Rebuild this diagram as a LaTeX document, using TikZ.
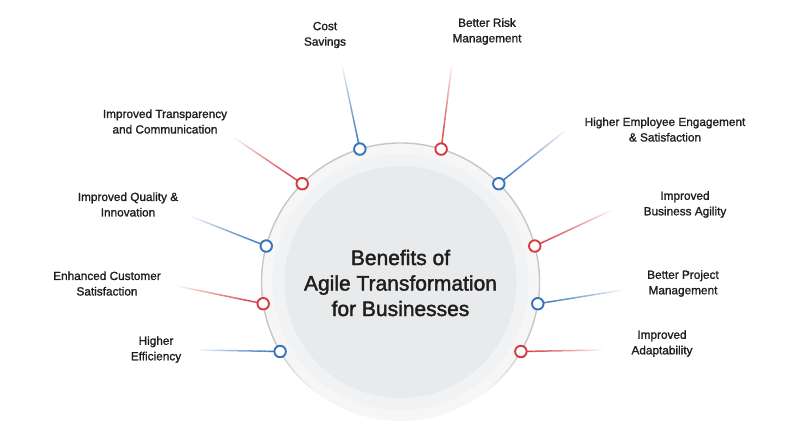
\documentclass[tikz,border=0pt]{standalone}
\usepackage{fontspec}
\setmainfont{Liberation Sans}
\newfontfamily\medfont[FakeBold=1.3]{Liberation Sans}
\newfontfamily\titlefont[FakeBold=1.8]{Liberation Sans}
\usetikzlibrary{calc}
\definecolor{bl}{HTML}{3674BA}
\definecolor{rd}{HTML}{D63A3C}
\definecolor{txt}{HTML}{1E1E1E}
\definecolor{diskA}{HTML}{F6F6F7}
\definecolor{diskB}{HTML}{F1F2F3}
\definecolor{diskC}{HTML}{E9EAEC}
\definecolor{ring}{HTML}{C6C6C8}
\pgfdeclarelayer{bg}
\pgfdeclarelayer{mid}
\pgfsetlayers{bg,mid,main}
\begin{document}
\begin{tikzpicture}[x=1pt,y=-1pt,
  lbl/.style={align=center, font=\medfont\fontsize{11.8}{15.5}\selectfont, text=txt, inner sep=0pt},
  dot/.style={circle, draw=#1, fill=white, line width=1.9pt, minimum size=11.5pt, inner sep=0pt},
  ringline/.style={draw=ring, line width=1.4pt}]
\useasboundingbox (0,0) rectangle (800,440);
\coordinate (c) at (400.5,282);
\begin{pgfonlayer}{bg}
\fill[diskA] (c) circle (139);
\fill[diskB] (c) circle (128);
\fill[diskC] (c) circle (116);
\draw[ringline] ([shift={(25:139)}]c) arc (25:-205:139);
\foreach \k in {0,...,19} {
  \draw[ringline, draw opacity={1-\k/20}] ([shift={({-205-1.4*\k}:139)}]c) arc ({-205-1.4*\k}:{-206.5-1.4*\k}:139);
  \draw[ringline, draw opacity={1-\k/20}] ([shift={({25+1.4*\k}:139)}]c) arc ({25+1.4*\k}:{26.5+1.4*\k}:139);
}
\end{pgfonlayer}
% title
\node[align=center, font=\titlefont\fontsize{21}{25.5}\selectfont, text=txt] (title) at (400.5,283) {Benefits of\\Agile Transformation\\for Businesses};
% nodes on the ring
\foreach \i/\a/\col in {1/107/bl, 2/73/rd, 3/45/bl, 4/15/rd, 5/-9/bl, 6/-30/rd, 7/210/bl, 8/189/rd, 9/165/bl, 10/135/rd}
  \node[dot=\col] (n\i) at ($(c)+({-\a}:139)$) {};
% free ends of connectors
\coordinate (e1) at (342,65);
\coordinate (e2) at (452,63);
\coordinate (e3) at (566,130);
\coordinate (e4) at (612,210);
\coordinate (e5) at (623,290);
\coordinate (e6) at (603,350);
\coordinate (e7) at (198,350);
\coordinate (e8) at (177,286);
\coordinate (e9) at (190,216);
\coordinate (e10) at (233,137);
\begin{pgfonlayer}{mid}
\foreach \i/\col in {1/bl,2/rd,3/bl,4/rd,5/bl,6/rd,7/bl,8/rd,9/bl,10/rd}
  \foreach \k in {0,...,29}
    \draw[\col, line width=1.5pt, draw opacity={1-(\k/30)^1.2}]
      ($(n\i.center)!{\k/30}!(e\i)$) -- ($(n\i.center)!{(\k+1)/30}!(e\i)$);
\end{pgfonlayer}
% labels
\node[lbl] (l1) at (325,35) {Cost\\Savings};
\node[lbl] (l2) at (487,31.5) {Better Risk\\Management};
\node[lbl] (l3) at (665,129.5) {Higher Employee Engagement\\\& Satisfaction};
\node[lbl] (l4) at (685,204.5) {Improved\\Business Agility};
\node[lbl] (l5) at (683,283.5) {Better Project\\Management};
\node[lbl] (l6) at (662,343.5) {Improved\\Adaptability};
\node[lbl] (l7) at (156,349.5) {Higher\\Efficiency};
\node[lbl] (l8) at (107,283.5) {Enhanced Customer\\Satisfaction};
\node[lbl] (l9) at (128,204.5) {Improved Quality \&\\Innovation};
\node[lbl] (l10) at (165,121.5) {Improved Transparency\\and Communication};
\end{tikzpicture}
\end{document}
